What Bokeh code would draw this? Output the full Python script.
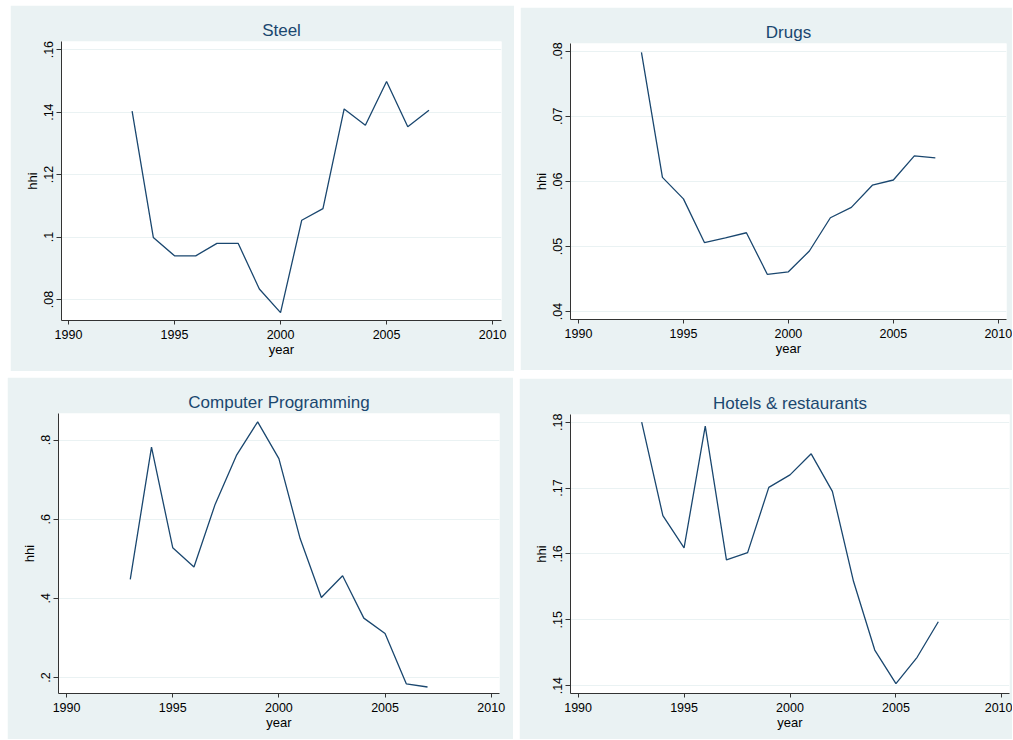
from bokeh.plotting import figure
from bokeh.layouts import row, column
from bokeh.models import FixedTicker, CustomJSTickFormatter, Range1d
from bokeh.embed import file_html
from bokeh.resources import INLINE

years = [1993, 1994, 1995, 1996, 1997, 1998, 1999, 2000, 2001, 2002, 2003, 2004, 2005, 2006, 2007]

steel = [0.1403, 0.0999, 0.0940, 0.0940, 0.0980, 0.0980, 0.0834, 0.0758, 0.1054, 0.1091,
         0.1410, 0.1358, 0.1498, 0.1353, 0.1406]
drugs = [0.0798, 0.0606, 0.0573, 0.0506, 0.0513, 0.0521, 0.0457, 0.0461, 0.0493, 0.0544,
         0.0560, 0.0594, 0.0602, 0.0639, 0.0636]
comp_prog = [0.448, 0.782, 0.528, 0.479, 0.638, 0.761, 0.846, 0.753, 0.551, 0.402,
             0.457, 0.350, 0.311, 0.184, 0.176]
hotels = [0.1800, 0.1658, 0.1609, 0.1794, 0.1591, 0.1602, 0.1701, 0.1720, 0.1752, 0.1695,
          0.1558, 0.1454, 0.1403, 0.1443, 0.1497]

x_ticks = [1990, 1995, 2000, 2005, 2010]
steel_yticks = [0.08, 0.10, 0.12, 0.14, 0.16]
drugs_yticks = [0.04, 0.05, 0.06, 0.07, 0.08]
comp_yticks = [0.2, 0.4, 0.6, 0.8]
hotels_yticks = [0.14, 0.15, 0.16, 0.17, 0.18]

titles = ["Steel", "Drugs", "Computer Programming", "Hotels & restaurants"]

BG = "#EAF2F3"
NAVY = "#1a476f"
FONT = "Liberation Sans"

fmt_code = """
const s = parseFloat(tick.toFixed(4)).toString();
return s.replace(/^0\\./, '.').replace(/^-0\\./, '-.');
"""


def make_panel(title, ys, yticks, yr, xr, size, borders, margin):
    w, h = size
    bl, br, bt, bb = borders
    p = figure(width=w, height=h, output_backend="svg", toolbar_location=None,
               x_range=Range1d(*xr), y_range=Range1d(*yr),
               min_border_left=bl, min_border_right=br,
               min_border_top=bt, min_border_bottom=bb)
    p.margin = margin
    p.border_fill_color = BG
    p.background_fill_color = "white"
    p.outline_line_color = None

    p.title.text = title
    p.title.align = "center"
    p.title.text_font = FONT
    p.title.text_font_size = "17px"
    p.title.text_font_style = "normal"
    p.title.text_color = NAVY
    p.title.standoff = 3

    p.line(years, ys, line_color=NAVY, line_width=1.3)

    p.xaxis.ticker = FixedTicker(ticks=x_ticks)
    p.yaxis.ticker = FixedTicker(ticks=yticks)
    p.yaxis.formatter = CustomJSTickFormatter(code=fmt_code)
    p.yaxis.major_label_orientation = "vertical"

    for ax in (p.xaxis, p.yaxis):
        ax.axis_line_color = "#333333"
        ax.major_tick_line_color = "#333333"
        ax.minor_tick_line_color = None
        ax.major_tick_in = 0
        ax.major_label_text_font = FONT
        ax.major_label_text_font_size = "12.5px"
        ax.major_label_text_color = "black"
        ax.axis_label_text_font = FONT
        ax.axis_label_text_font_size = "13px"
        ax.axis_label_text_font_style = "normal"
        ax.axis_label_text_color = "black"
    p.xaxis.major_tick_out = 4
    p.yaxis.major_tick_out = 5
    p.xaxis.major_label_standoff = 5
    p.yaxis.major_label_standoff = 3
    p.xaxis.axis_label = "year"
    p.yaxis.axis_label = "hhi"
    p.xaxis.axis_label_standoff = 0
    p.yaxis.axis_label_standoff = 2

    p.xgrid.grid_line_color = None
    p.ygrid.ticker = FixedTicker(ticks=yticks)
    p.ygrid.grid_line_color = BG
    p.ygrid.grid_line_width = 1
    return p


p1 = make_panel(titles[0], steel, steel_yticks, (0.0733, 0.1626), (1989.67, 2010.42),
                (504, 366), (51, 13, 35, 51), (5, 0, 0, 10))
p2 = make_panel(titles[1], drugs, drugs_yticks, (0.03878, 0.08116), (1989.62, 2010.39),
                (492, 363), (50, 6, 36, 49), (7, 0, 0, 6))
p3 = make_panel(titles[2], comp_prog, comp_yticks, (0.1596, 0.867), (1989.62, 2010.39),
                (506, 362), (51, 14, 35, 46), (6, 0, 0, 7))
p4 = make_panel(titles[3], hotels, hotels_yticks, (0.1388, 0.18117), (1989.64, 2010.36),
                (493, 361), (51, 3, 36, 45), (7, 0, 0, 6))

layout = column(row(p1, p2), row(p3, p4))

open("out.html", "w").write(file_html(layout, INLINE))
